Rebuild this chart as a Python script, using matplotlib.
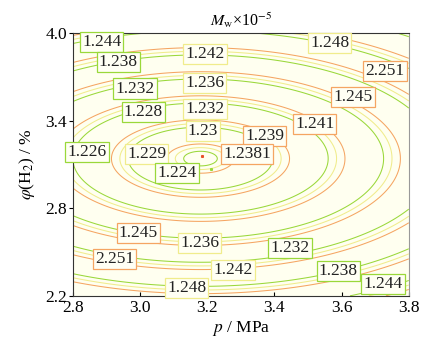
import matplotlib
matplotlib.use("Agg")
import matplotlib.pyplot as plt
import numpy as np

plt.rcParams["font.family"] = ["Liberation Serif", "DejaVu Serif"]
plt.rcParams["mathtext.fontset"] = "stix"

# response surface (centre of the ellipses)
P_CENTER = 3.18
PHI_CENTER = 3.14
# contour lines come in groups: green, then yellow, then orange just outside it
green_levels = [0.05, 0.215, 0.38, 0.545, 0.71, 0.875, 1.04, 1.205, 1.37]
yellow_levels = [0.075, 0.24, 0.405, 0.57, 0.735, 0.90, 1.065, 1.23, 1.395]
orange_levels = [0.10, 0.265, 0.43, 0.595, 0.76, 0.925, 1.09, 1.255, 1.42]

# contour labels as printed in the reference
label_text = ["1.244", "1.242", "1.248", "1.238", "2.251", "1.236", "1.232", "1.245",
              "1.228", "1.232", "1.241", "1.23", "1.239", "1.226", "1.229", "1.2381",
              "1.224", "1.245", "1.236", "1.232", "2.251", "1.242", "1.238", "1.248",
              "1.244"]
label_p = [2.886, 3.193, 3.565, 2.935, 3.729, 3.193, 2.985, 3.634,
           3.010, 3.193, 3.520, 3.187, 3.371, 2.842, 3.020, 3.318,
           3.110, 2.995, 3.178, 3.446, 2.925, 3.277, 3.590, 3.139,
           3.723]
label_phi = [3.938, 3.856, 3.930, 3.800, 3.740, 3.660, 3.620, 3.560,
             3.460, 3.480, 3.377, 3.330, 3.295, 3.185, 3.170, 3.170,
             3.040, 2.630, 2.560, 2.527, 2.450, 2.377, 2.370, 2.253,
             2.280]
label_kind = ["g", "y", "y", "g", "o", "y", "g", "o",
              "g", "y", "o", "y", "o", "g", "y", "o",
              "g", "o", "y", "g", "o", "y", "g", "y",
              "g"]

GREEN = "#9ad83a"
ORANGE = "#f5a562"
YELLOW = "#f0ec8c"
kind_color = {"g": GREEN, "o": ORANGE, "y": YELLOW}

p = np.linspace(2.8, 3.8, 500)
phi = np.linspace(2.2, 4.0, 500)
P, PHI = np.meshgrid(p, phi)
F = np.sqrt((P - P_CENTER) ** 2 + (PHI - PHI_CENTER) ** 2)

fig = plt.figure(figsize=(4.21, 3.44), dpi=100)
ax = fig.add_axes([0.173, 0.140, 0.798, 0.764])
ax.set_facecolor("#fffff0")

for lev, col in [(green_levels, GREEN), (yellow_levels, YELLOW), (orange_levels, ORANGE)]:
    ax.contour(P, PHI, F, levels=lev, colors=col, linewidths=0.75)

# centre markers
ax.plot([3.183], [3.157], marker="s", ms=1.2, color="#e8502a", lw=0)
ax.plot([3.21], [3.07], marker="s", ms=1.2, color=GREEN, lw=0)

for txt, x, y, k in zip(label_text, label_p, label_phi, label_kind):
    ax.text(x, y, txt, ha="center", va="center", fontsize=12.5, color="#222222",
            bbox=dict(boxstyle="square,pad=0.12", fc="#fffff4", ec=kind_color[k], lw=0.9))

ax.set_xlim(2.8, 3.8)
ax.set_ylim(2.2, 4.0)
ax.set_xticks([2.8, 3.0, 3.2, 3.4, 3.6, 3.8])
ax.set_yticks([2.2, 2.8, 3.4, 4.0])
ax.tick_params(axis="x", direction="in", length=3, labelsize=12.5, pad=3)
ax.tick_params(axis="y", direction="out", length=3, labelsize=12.5, pad=1)

for side in ["left", "bottom", "top"]:
    ax.spines[side].set_color("#333333")
ax.spines["right"].set_color("#999999")

ax.set_title(r"$M_{\mathrm{w}}$×10$^{-5}$", fontsize=11.5, pad=5)
ax.set_xlabel(r"$p$ / MPa", fontsize=12.5, labelpad=2)
ax.set_ylabel(r"$\varphi$(H$_2$) / %", fontsize=12.5, labelpad=6)

fig.savefig("out.png", dpi=100)
